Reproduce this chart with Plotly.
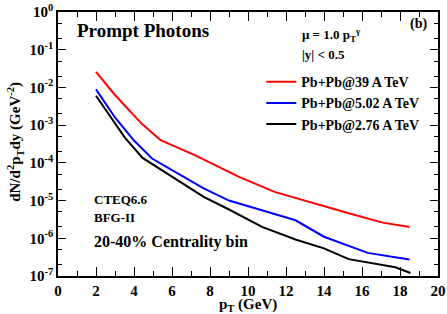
import plotly.graph_objects as go

# Data
pt_red = [2.0, 3.0, 4.4, 5.4, 7.2, 9.5, 11.4, 14.0, 15.3, 17.1, 18.5]
y_red = [2.6e-2, 6.3e-3, 1.1e-3, 4.0e-4, 1.6e-4, 4.3e-5, 1.7e-5, 7.0e-6, 4.6e-6, 2.6e-6, 2.0e-6]

pt_blue = [2.0, 3.0, 4.0, 4.95, 6.0, 7.67, 9.0, 11.0, 12.5, 14.0, 16.3, 18.5]
y_blue = [8.9e-3, 1.6e-3, 3.9e-4, 1.3e-4, 6.4e-5, 2.1e-5, 1.0e-5, 5.1e-6, 3.0e-6, 1.1e-6, 4.1e-7, 2.75e-7]

pt_black = [2.0, 3.0, 3.5, 4.45, 6.0, 7.67, 9.0, 10.74, 12.5, 14.0, 15.3, 17.76, 18.55]
y_black = [6.0e-3, 1.12e-3, 4.8e-4, 1.35e-4, 4.3e-5, 1.26e-5, 5.8e-6, 2.0e-6, 9.3e-7, 5.4e-7, 2.8e-7, 1.7e-7, 1.2e-7]

series = [
    ("Pb+Pb@39 A TeV", pt_red, y_red, "#ff0000"),
    ("Pb+Pb@5.02 A TeV", pt_blue, y_blue, "#0000ff"),
    ("Pb+Pb@2.76 A TeV", pt_black, y_black, "#000000"),
]

x_ticks = list(range(0, 21, 2))
y_exps = list(range(-7, 1))

FONT = "Liberation Serif"

fig = go.Figure()
for name, xs, ys, col in series:
    fig.add_trace(go.Scatter(x=xs, y=ys, mode="lines", name=f"<b>{name}</b>",
                             line=dict(color=col, width=2)))

fig.update_layout(
    width=447, height=314,
    margin=dict(l=58, r=9, t=12, b=38, autoexpand=False),
    paper_bgcolor="white", plot_bgcolor="white",
    font=dict(family=FONT, color="black"),
    showlegend=True,
    legend=dict(x=0.535, y=0.795, xanchor="left", yanchor="top",
                bgcolor="rgba(0,0,0,0)", font=dict(size=14, family=FONT),
                itemwidth=30, tracegroupgap=0),
)
fig.update_xaxes(
    range=[0, 20], tickvals=x_ticks, ticktext=[f"<b>{v}</b>" for v in x_ticks],
    ticks="inside", ticklen=9, tickwidth=1, tickcolor="black",
    minor=dict(ticks="inside", ticklen=5, dtick=1, tickcolor="black"),
    showline=True, linecolor="black", linewidth=1.5, mirror="ticks",
    showgrid=False, zeroline=False, automargin=False,
    tickfont=dict(size=15, family=FONT),
)
fig.update_yaxes(
    type="log", range=[-7, 0],
    tickvals=[10 ** e for e in y_exps],
    ticktext=[f"<b>10<sup>{e}</sup></b>" for e in y_exps],
    ticks="inside", ticklen=8, tickwidth=1, tickcolor="black",
    minor=dict(ticks="inside", ticklen=4, tickcolor="black"),
    showline=True, linecolor="black", linewidth=1.5, mirror="ticks",
    showgrid=False, zeroline=False, automargin=False,
    tickfont=dict(size=15, family=FONT),
)

def note(text, x, y, size=13, xanchor="left", angle=0):
    fig.add_annotation(text=text, xref="paper", yref="paper", x=x, y=y,
                       xanchor=xanchor, yanchor="middle", showarrow=False,
                       textangle=angle,
                       font=dict(size=size, family=FONT, color="black"))

# axis titles
note("<b>p<sub>T</sub> (GeV)</b>", 0.5, -0.11, size=15, xanchor="center")
note("<b>dN/d<sup>2</sup>p<sub>T</sub>dy (GeV<sup>-2</sup>)</b>", -0.112, 0.51,
     size=15, xanchor="center", angle=-90)

note("<b>Prompt Photons</b>", 0.045, 0.93, size=19)
note("<b>(b)</b>", 0.975, 0.955, size=14, xanchor="right")
note("<b>μ = 1.0 p<sub>T</sub><sup>γ</sup></b>", 0.637, 0.912, size=13)
note("<b>|y| < 0.5</b>", 0.637, 0.838, size=13)
note("<b>CTEQ6.6</b>", 0.09, 0.29, size=13)
note("<b>BFG-II</b>", 0.09, 0.222, size=13)
note("<b>20-40% Centrality bin</b>", 0.09, 0.13, size=16)

fig.write_html("out.html", config={"displayModeBar": False},
               post_script="document.body.style.margin='0';")
